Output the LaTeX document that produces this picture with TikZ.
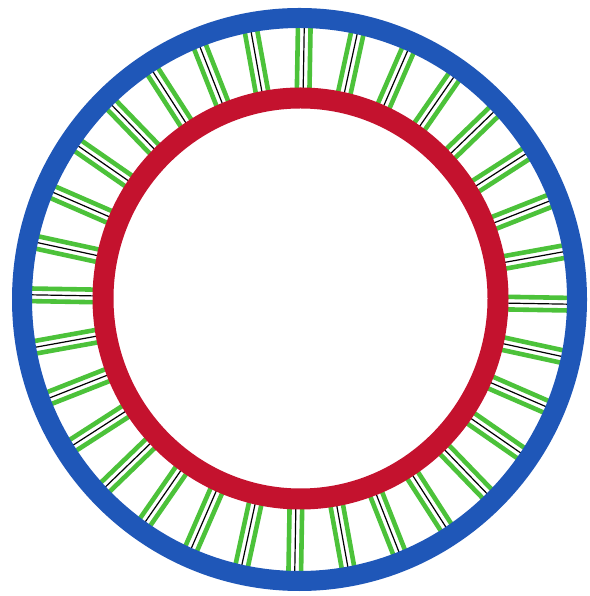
\documentclass[tikz,border=0pt]{standalone}
\definecolor{ringblue}{RGB}{31,87,184}
\definecolor{ringred}{RGB}{196,18,46}
\definecolor{spokegreen}{RGB}{76,194,58}
\begin{document}
\begin{tikzpicture}[x=1pt,y=1pt,
  greenline/.style={draw=spokegreen,line width=4.6pt},
  blackline/.style={draw=black,line width=1.2pt},
  outerring/.style={draw=ringblue,line width=20pt},
  innerring/.style={draw=ringred,line width=21pt}]
\useasboundingbox (0,0) rectangle (589,596);
\fill[white] (0,0) rectangle (589,596);
\coordinate (C) at (299.5,296.5);
\coordinate (R) at (300.5,297.5);
\foreach \k in {0,...,31} {
  \begin{scope}[shift={(C)}, rotate={\k*11.25-1}]
    \draw[greenline] (200,6.3) -- (274,6.3);
    \draw[greenline] (200,-6.3) -- (274,-6.3);
    \draw[blackline] (200,0) -- (274,0);
  \end{scope}
}
\draw[outerring] (C) ellipse [x radius=277.5, y radius=281.5];
\draw[innerring] (R) ellipse [x radius=197.5, y radius=200.5];
\end{tikzpicture}
\end{document}
